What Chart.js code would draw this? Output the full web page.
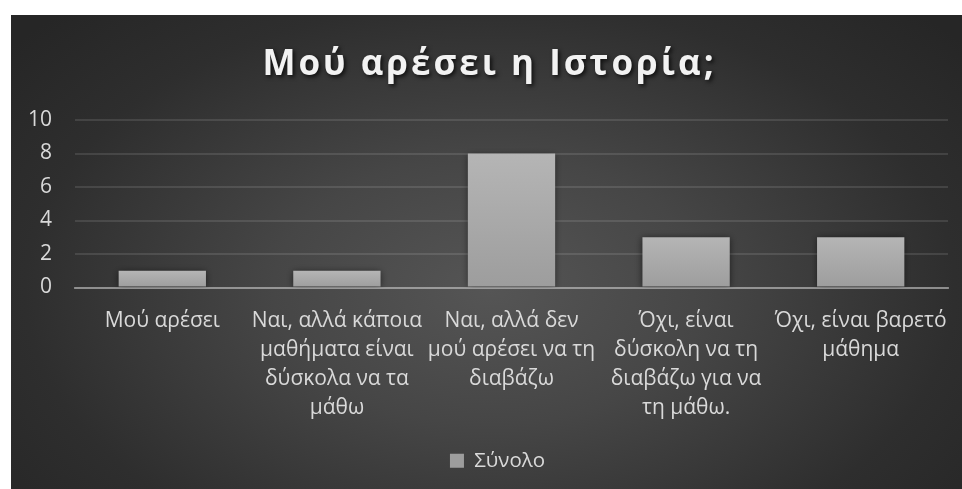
<!DOCTYPE html>
<html>
<head>
<meta charset="utf-8">
<script src="https://cdn.jsdelivr.net/npm/chart.js@4/dist/chart.umd.min.js"></script>
<style>
  html, body { margin: 0; padding: 0; background: #ffffff; }
  #wrap { position: relative; width: 962px; height: 489px; }
</style>
</head>
<body>
<div id="wrap"><canvas id="chart" width="962" height="489"></canvas></div>
<script>
// Survey answers (categories) and the number of replies for each
const categories = [
  'Μού αρέσει',
  ['Ναι, αλλά κάποια', 'μαθήματα είναι', 'δύσκολα να τα', 'μάθω'],
  ['Ναι, αλλά δεν', 'μού αρέσει να τη', 'διαβάζω'],
  ['Όχι, είναι', 'δύσκολη να τη', 'διαβάζω για να', 'τη μάθω.'],
  ['Όχι, είναι βαρετό', 'μάθημα']
];
const totals = [1, 1, 8, 3, 3];
const yTickValues = [0, 2, 4, 6, 8, 10];
const seriesName = 'Σύνολο';
const chartTitle = 'Μού αρέσει η Ιστορία;';

const FONT = "'Open Sans', 'Noto Sans', sans-serif";
const LABEL_COLOR = '#d9d9d9';

// Dark panel with a soft radial highlight, inset from the white page edge
const panelBackground = {
  id: 'panelBackground',
  beforeDraw(chart) {
    const ctx = chart.ctx;
    const W = chart.width, H = chart.height;
    ctx.save();
    ctx.fillStyle = '#ffffff';
    ctx.fillRect(0, 0, W, H);
    const x0 = 11, y0 = 15;
    const cx = 490, cy = 290;
    ctx.translate(cx, cy);
    ctx.scale(1, 0.62);
    const g = ctx.createRadialGradient(0, 0, 0, 0, 0, 620);
    g.addColorStop(0, '#555555');
    g.addColorStop(0.35, '#464646');
    g.addColorStop(0.75, '#2e2e2e');
    g.addColorStop(1, '#262626');
    ctx.fillStyle = g;
    ctx.fillRect(x0 - cx, (y0 - cy) / 0.62, W - x0, (H - y0) / 0.62);
    ctx.restore();
  }
};

// Soft drop shadow behind the bars
const barShadow = {
  id: 'barShadow',
  beforeDatasetsDraw(chart) {
    const ctx = chart.ctx;
    ctx.save();
    ctx.shadowColor = 'rgba(0,0,0,0.55)';
    ctx.shadowBlur = 7;
    ctx.shadowOffsetX = 0;
    ctx.shadowOffsetY = 1;
  },
  afterDatasetsDraw(chart) {
    chart.ctx.restore();
  }
};

// Wraps a layout box's draw so it is nudged sideways and given extra styling
function wrapDraw(box, chart, dx, styler) {
  const baseDraw = box.draw.bind(box);
  box.draw = function (area) {
    const ctx = chart.ctx;
    ctx.save();
    if (styler) styler(ctx);
    ctx.translate(dx, 0);
    baseDraw(area);
    ctx.restore();
  };
}

// Title gets letter spacing and a drop shadow; title and legend sit a little right of centre
const boxStyle = {
  id: 'boxStyle',
  afterInit(chart) {
    if (chart.titleBlock) {
      wrapDraw(chart.titleBlock, chart, 10, ctx => {
        ctx.letterSpacing = '3px';
        ctx.shadowColor = 'rgba(0,0,0,0.75)';
        ctx.shadowBlur = 4;
        ctx.shadowOffsetX = 2;
        ctx.shadowOffsetY = 2;
      });
    }
    if (chart.legend) wrapDraw(chart.legend, chart, 18, null);
  }
};

// Vertical gradient on each bar, from its own top down to the baseline
function barFill(context) {
  const solid = '#acacac';
  if (context.type !== 'data') return solid;
  const chart = context.chart;
  const y = chart.scales && chart.scales.y;
  if (!y) return solid;
  const top = y.getPixelForValue(totals[context.dataIndex]);
  const bottom = y.getPixelForValue(0);
  if (!isFinite(top) || !isFinite(bottom) || top === bottom) return solid;
  const g = chart.ctx.createLinearGradient(0, top, 0, bottom);
  g.addColorStop(0, '#b5b5b5');
  g.addColorStop(1, '#9d9d9d');
  return g;
}

const chart = new Chart(document.getElementById('chart'), {
  type: 'bar',
  data: {
    labels: categories,
    datasets: [{
      label: seriesName,
      data: totals,
      backgroundColor: barFill,
      borderWidth: 0,
      barPercentage: 0.5,
      categoryPercentage: 1.0
    }]
  },
  options: {
    responsive: false,
    animation: false,
    layout: { padding: { left: 11, right: 14, top: 15, bottom: 8 } },
    plugins: {
      title: {
        display: true,
        text: chartTitle,
        color: '#f2f2f2',
        font: { family: FONT, size: 35, weight: 'bold', lineHeight: 1.2 },
        padding: { top: 29, bottom: 34 }
      },
      legend: {
        display: true,
        position: 'bottom',
        labels: {
          color: LABEL_COLOR,
          font: { family: FONT, size: 20.5 },
          boxWidth: 14,
          boxHeight: 14,
          padding: 10
        }
      },
      tooltip: { enabled: false }
    },
    scales: {
      x: {
        grid: { display: false, drawTicks: false },
        border: { display: true, color: 'rgba(200,200,200,0.55)', width: 2 },
        ticks: {
          color: LABEL_COLOR,
          font: { family: FONT, size: 21, lineHeight: 1.38 },
          padding: 19,
          maxRotation: 0,
          autoSkip: false
        },
        afterFit(scale) {
          scale.height = 153;
          scale.paddingLeft = 0;
          scale.paddingRight = 0;
        }
      },
      y: {
        min: 0,
        max: 10,
        afterBuildTicks(scale) { scale.ticks = yTickValues.map(v => ({ value: v })); },
        grid: { color: 'rgba(255,255,255,0.11)', lineWidth: 2, drawTicks: false },
        border: { display: false },
        ticks: {
          color: LABEL_COLOR,
          font: { family: FONT, size: 21 },
          padding: 23
        },
        afterFit(scale) { scale.width = 64; }
      }
    }
  },
  plugins: [panelBackground, barShadow, boxStyle]
});
chart.update();
</script>
</body>
</html>
